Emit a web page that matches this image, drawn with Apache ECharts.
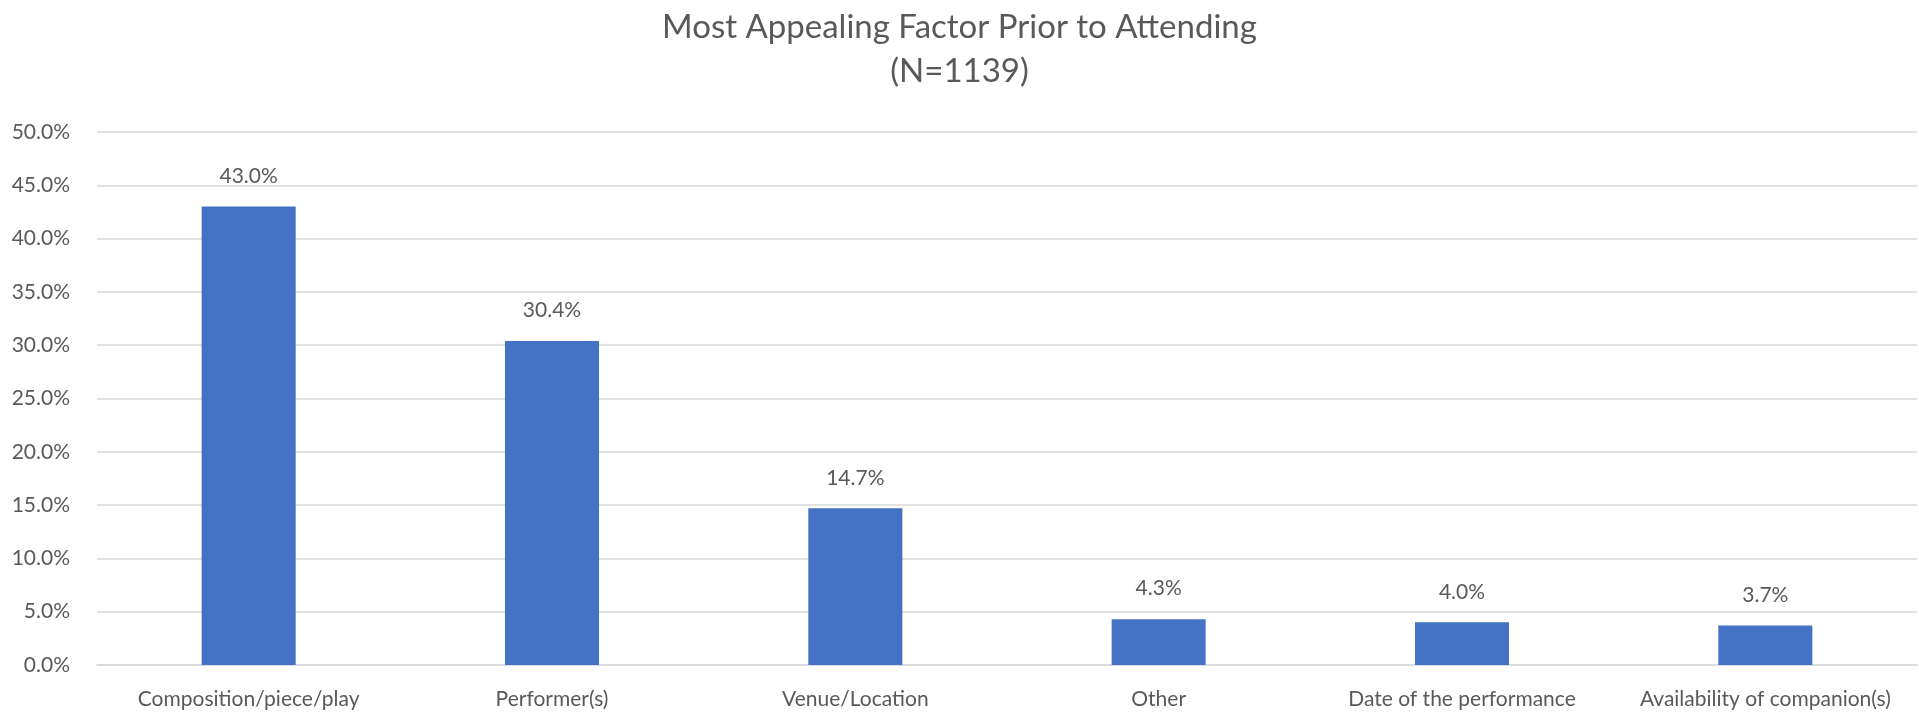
<!DOCTYPE html>
<html>
<head>
<meta charset="utf-8">
<script src="https://cdn.jsdelivr.net/npm/echarts@6/dist/echarts.min.js"></script>
<style>
  html, body { margin: 0; padding: 0; background: #fff; }
  #chart { width: 1919px; height: 713px; }
</style>
</head>
<body>
<div id="chart"></div>
<script>
const categories = ['Composition/piece/play', 'Performer(s)', 'Venue/Location', 'Other', 'Date of the performance', 'Availability of companion(s)'];
const shares = [43.0, 30.4, 14.7, 4.3, 4.0, 3.7];

const textColor = '#595959';
const fontFamily = 'Lato, "Open Sans", sans-serif';

const myChart = echarts.init(document.getElementById('chart'));
myChart.setOption({
  animation: false,
  title: {
    text: 'Most Appealing Factor Prior to Attending\n(N=1139)',
    left: 'center',
    top: 0,
    textStyle: {
      color: textColor,
      fontFamily: fontFamily,
      fontWeight: 'normal',
      fontSize: 33,
      lineHeight: 44
    }
  },
  grid: { left: 97, right: 2, top: 132, bottom: 48 },
  xAxis: {
    type: 'category',
    data: categories,
    axisTick: { show: false },
    axisLine: { lineStyle: { color: '#D9D9D9', width: 1.5 } },
    axisLabel: { color: textColor, fontFamily: fontFamily, fontSize: 21, margin: 24, interval: 0 }
  },
  yAxis: {
    type: 'value',
    min: 0,
    max: 50,
    interval: 5,
    axisLine: { show: false },
    axisTick: { show: false },
    splitLine: { lineStyle: { color: '#D9D9D9', width: 1.5 } },
    axisLabel: {
      color: textColor,
      fontFamily: fontFamily,
      fontSize: 21,
      margin: 27,
      formatter: v => v.toFixed(1) + '%'
    }
  },
  series: [{
    type: 'bar',
    data: shares,
    barWidth: '31%',
    itemStyle: { color: '#4472C4' },
    label: {
      show: true,
      position: 'top',
      distance: 20,
      color: textColor,
      fontFamily: fontFamily,
      fontSize: 21,
      formatter: p => p.value.toFixed(1) + '%'
    }
  }]
});
</script>
</body>
</html>
